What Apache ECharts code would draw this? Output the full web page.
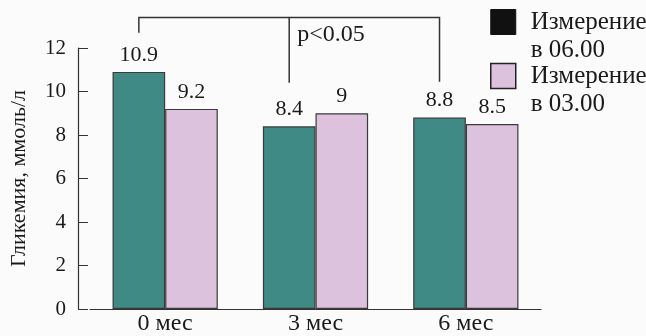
<!DOCTYPE html>
<html>
<head>
<meta charset="utf-8">
<script src="https://cdn.jsdelivr.net/npm/echarts@6/dist/echarts.min.js"></script>
<style>
  html, body { margin: 0; padding: 0; background: #fbfbfb; }
  #chart { width: 646px; height: 336px; }
</style>
</head>
<body>
<div id="chart"></div>
<script>
// данные
const categories = ['0 мес', '3 мес', '6 мес']
const seriesNames = ['Измерение в 06.00', 'Измерение в 03.00']
const morning = [10.9, 8.4, 8.8]
const night = [9.2, 9, 8.5]
const yTicks = { min: 0, max: 12, interval: 2 }

// скобка значимости над столбцами "06.00"
const bracketTop = 13.4
const bracketLegs = [12.7, 10.4, 10.45]
const pLabel = 'p<0.05'

const serif = '"Liberation Serif", "DejaVu Serif", serif'
const teal = '#3f8a85'
const pink = '#dcc2dc'

const chart = echarts.init(document.getElementById('chart'))

const barGapPct = 30

const option = {
  backgroundColor: '#fbfbfb',
  animation: false,
  legend: {
    orient: 'vertical',
    left: 490,
    top: -20,
    padding: 0,
    itemWidth: 25,
    itemHeight: 25,
    itemGap: -30,
    icon: 'rect',
    // пустая первая строка, чтобы "Измерение" стояла напротив значка
    formatter: name => {
      const parts = name.split(' в ')
      return '\n{a|' + parts[0] + '}\n{a|в ' + parts[1] + '}'
    },
    textStyle: {
      fontFamily: serif, fontSize: 25, color: '#1a1a1a', lineHeight: 28,
      rich: { a: { fontFamily: serif, fontSize: 25, color: '#1a1a1a', lineHeight: 28, padding: [0, 0, 0, 10] } }
    },
    data: [
      { name: seriesNames[0], itemStyle: { color: '#111', borderColor: '#111', borderWidth: 1 } },
      { name: seriesNames[1], itemStyle: { color: pink, borderColor: '#222', borderWidth: 1.5 } }
    ]
  },
  grid: { left: 88, right: 105, top: 48, bottom: 26 },
  xAxis: {
    type: 'category',
    data: categories,
    axisLine: { lineStyle: { color: '#333', width: 1.2 } },
    axisTick: { inside: true, length: 6, lineStyle: { color: '#333' } },
    axisLabel: { fontFamily: serif, fontSize: 24, color: '#1a1a1a', margin: 3 }
  },
  yAxis: {
    type: 'value',
    min: yTicks.min,
    max: yTicks.max,
    interval: yTicks.interval,
    offset: 12,
    name: 'Гликемия, ммоль/л',
    nameLocation: 'middle',
    nameGap: 48,
    nameTextStyle: { fontFamily: serif, fontSize: 22, color: '#1a1a1a' },
    splitLine: { show: false },
    axisLine: { show: true, lineStyle: { color: '#333', width: 1.2 } },
    axisTick: { show: true, inside: true, length: 10, lineStyle: { color: '#333' } },
    axisLabel: { fontFamily: serif, fontSize: 21, color: '#1a1a1a', margin: 12 }
  },
  series: [
    {
      name: seriesNames[0],
      type: 'bar',
      data: morning,
      barGap: '0%',
      barCategoryGap: barGapPct + '%',
      itemStyle: { color: teal, borderColor: '#3a3a3a', borderWidth: 1.2 },
      label: { show: true, position: 'top', distance: 6, fontFamily: serif, fontSize: 22, color: '#1a1a1a' }
    },
    {
      name: seriesNames[1],
      type: 'bar',
      data: night,
      itemStyle: { color: pink, borderColor: '#3a3a3a', borderWidth: 1.2 },
      label: { show: true, position: 'top', distance: 6, fontFamily: serif, fontSize: 22, color: '#1a1a1a' }
    },
    {
      type: 'custom',
      coordinateSystem: 'cartesian2d',
      silent: true,
      clip: false,
      z: 10,
      data: [[0, bracketTop]],
      renderItem: (params, api) => {
        const band = api.size([1, 0])[0]
        const shift = -band * (1 - barGapPct / 100) / 4
        const top = api.coord([0, bracketTop])[1]
        const legs = bracketLegs.map((v, i) => {
          const p = api.coord([i, v])
          return [p[0] + shift, p[1]]
        })
        const children = [{
          type: 'polyline',
          shape: { points: [legs[0], [legs[0][0], top], [legs[2][0], top], legs[2]] },
          style: { stroke: '#333', lineWidth: 1.5, fill: null }
        }, {
          type: 'line',
          shape: { x1: legs[1][0], y1: top, x2: legs[1][0], y2: legs[1][1] },
          style: { stroke: '#333', lineWidth: 1.5 }
        }, {
          type: 'text',
          x: legs[1][0] + 8,
          y: top + 17,
          style: { text: pLabel, fontFamily: serif, fontSize: 24, fill: '#1a1a1a', verticalAlign: 'middle' }
        }]
        return { type: 'group', children }
      }
    }
  ]
}

chart.setOption(option)
</script>
</body>
</html>
